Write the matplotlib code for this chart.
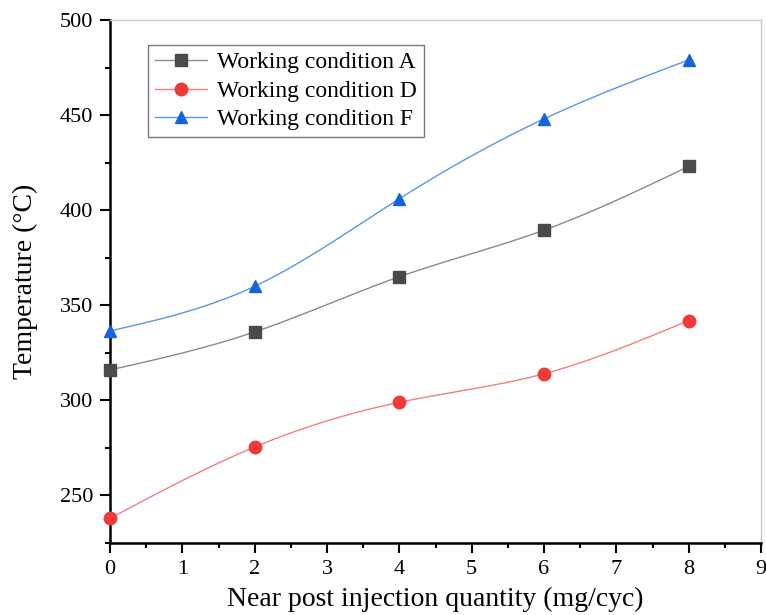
import numpy as np
import matplotlib
matplotlib.use("Agg")
import matplotlib.pyplot as plt
from matplotlib.ticker import MultipleLocator

plt.rcParams["font.family"] = ["Liberation Serif", "DejaVu Serif"]

quantity = [0, 2, 4, 6, 8]
temp_a = [316, 336, 365, 389.5, 423]
temp_d = [238, 275.5, 299, 314, 342]
temp_f = [336.5, 360, 406, 448, 479]

labels = ["Working condition A", "Working condition D", "Working condition F"]


def natural_spline(x, y, n=200):
    """Natural cubic spline through (x, y), sampled on n points."""
    x = np.asarray(x, float)
    y = np.asarray(y, float)
    k = len(x)
    h = np.diff(x)
    A = np.zeros((k, k))
    r = np.zeros(k)
    A[0, 0] = A[-1, -1] = 1.0
    for i in range(1, k - 1):
        A[i, i - 1] = h[i - 1]
        A[i, i] = 2 * (h[i - 1] + h[i])
        A[i, i + 1] = h[i]
        r[i] = 3 * ((y[i + 1] - y[i]) / h[i] - (y[i] - y[i - 1]) / h[i - 1])
    c = np.linalg.solve(A, r)
    b = (y[1:] - y[:-1]) / h - h * (2 * c[:-1] + c[1:]) / 3
    d = (c[1:] - c[:-1]) / (3 * h)
    xs = np.linspace(x[0], x[-1], n)
    idx = np.clip(np.searchsorted(x, xs) - 1, 0, k - 2)
    dx = xs - x[idx]
    ys = y[idx] + b[idx] * dx + c[idx] * dx ** 2 + d[idx] * dx ** 3
    return xs, ys


fig = plt.figure(figsize=(7.66, 6.15), dpi=100)
ax = fig.add_axes([0.1436, 0.117, 0.8499, 0.8505])

series = [
    (temp_a, "s", "#4a4a4a", "#8a8a8a", labels[0]),
    (temp_d, "o", "#f03a3a", "#f08080", labels[1]),
    (temp_f, "^", "#1464dc", "#5a96e6", labels[2]),
]
for ys, mk, mc, lc, lab in series:
    sx, sy = natural_spline(quantity, ys)
    ax.plot(sx, sy, color=lc, linewidth=1.0, zorder=2)
    ax.plot(quantity, ys, linestyle="none", marker=mk, markersize=9,
            color=mc, zorder=3, clip_on=False)
    ax.plot([], [], color=lc, linewidth=1.0, marker=mk, markersize=9,
            markerfacecolor=mc, markeredgecolor=mc, label=lab)

ax.set_xlim(0, 9)
ax.set_ylim(225, 500)
ax.xaxis.set_major_locator(MultipleLocator(1))
ax.xaxis.set_minor_locator(MultipleLocator(0.5))
ax.yaxis.set_major_locator(MultipleLocator(50))
ax.yaxis.set_minor_locator(MultipleLocator(25))

for side in ("left", "bottom"):
    ax.spines[side].set_linewidth(1.8)
    ax.spines[side].set_color("black")
for side in ("top", "right"):
    ax.spines[side].set_linewidth(1.0)
    ax.spines[side].set_color("#c8c8c8")

ax.tick_params(which="major", direction="out", length=7, width=1.5,
               labelsize=16, pad=5, top=False, right=False)
ax.tick_params(which="minor", direction="out", length=3.5, width=1.5,
               top=False, right=False)

ax.set_xlabel("Near post injection quantity (mg/cyc)", fontsize=20, labelpad=6)
ax.set_ylabel("Temperature (°C)", fontsize=20, labelpad=16)

leg = ax.legend(loc="upper left", bbox_to_anchor=(0.059, 0.953), fontsize=17,
                frameon=True, fancybox=False, edgecolor="#555555",
                handlelength=2.2, borderpad=0.3, labelspacing=0.3,
                handletextpad=0.4, borderaxespad=0)
leg.get_frame().set_linewidth(1.0)

fig.savefig("out.png", dpi=100)
